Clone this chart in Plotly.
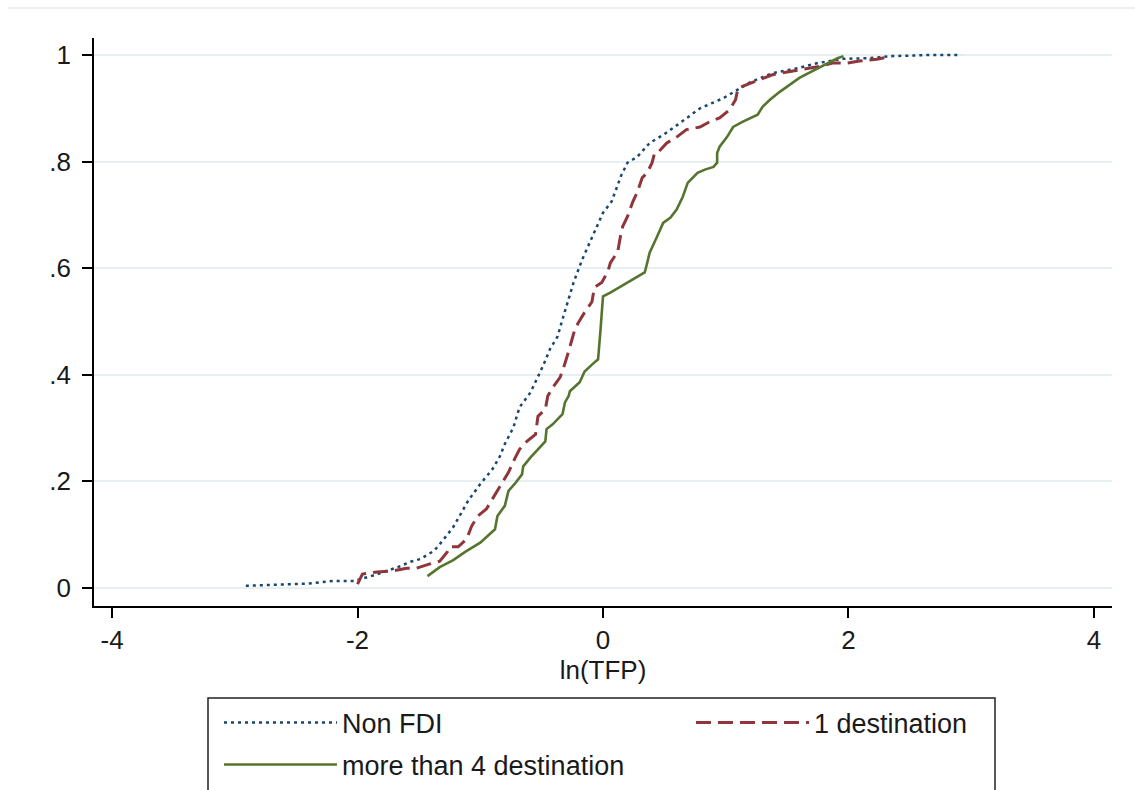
import plotly.graph_objects as go

# ---------------- data ----------------
nonfdi_x = [-2.91, -2.40, -2.20, -2.03, -1.89, -1.67, -1.57, -1.49, -1.38, -1.34, -1.22, -1.10,
            -1.00, -0.90, -0.84, -0.80, -0.73, -0.68, -0.59, -0.49, -0.43, -0.37, -0.33, -0.29,
            -0.24, -0.17, -0.09, 0.00, 0.07, 0.15, 0.20, 0.28, 0.38, 0.49, 0.63, 0.79, 0.98,
            1.20, 1.38, 1.60, 1.75, 1.96, 2.15, 2.36, 2.64, 2.92]
nonfdi_y = [0.004, 0.008, 0.013, 0.013, 0.022, 0.039, 0.049, 0.054, 0.069, 0.079, 0.114, 0.163,
            0.195, 0.223, 0.247, 0.270, 0.301, 0.339, 0.367, 0.416, 0.449, 0.472, 0.504, 0.536,
            0.573, 0.616, 0.659, 0.704, 0.725, 0.775, 0.798, 0.809, 0.835, 0.850, 0.873, 0.900,
            0.919, 0.949, 0.966, 0.976, 0.985, 0.993, 0.994, 0.998, 1.000, 1.000]

dest1_x = [-2.00, -1.96, -1.84, -1.71, -1.60, -1.52, -1.41, -1.33, -1.27, -1.25, -1.18, -1.11,
           -1.07, -1.02, -0.95, -0.86, -0.81, -0.77, -0.72, -0.68, -0.62, -0.55, -0.53, -0.47,
           -0.45, -0.41, -0.35, -0.32, -0.28, -0.25, -0.23, -0.20, -0.15, -0.09, -0.07, -0.01,
           0.04, 0.06, 0.12, 0.14, 0.16, 0.20, 0.24, 0.28, 0.32, 0.36, 0.40, 0.42, 0.45, 0.52,
           0.60, 0.68, 0.79, 0.87, 0.95, 1.03, 1.08, 1.10, 1.17, 1.28, 1.38, 1.50, 1.60, 1.69,
           1.77, 1.87, 1.99, 2.09, 2.23, 2.31, 2.35]
dest1_y = [0.007, 0.026, 0.030, 0.032, 0.037, 0.037, 0.045, 0.050, 0.067, 0.077, 0.077, 0.092,
           0.116, 0.135, 0.148, 0.182, 0.200, 0.217, 0.242, 0.260, 0.275, 0.288, 0.322, 0.335,
           0.360, 0.376, 0.395, 0.414, 0.444, 0.466, 0.485, 0.498, 0.517, 0.537, 0.564, 0.573,
           0.594, 0.610, 0.631, 0.657, 0.678, 0.697, 0.723, 0.743, 0.770, 0.779, 0.798, 0.816,
           0.818, 0.835, 0.846, 0.860, 0.865, 0.875, 0.882, 0.897, 0.916, 0.938, 0.944, 0.953,
           0.963, 0.968, 0.972, 0.976, 0.979, 0.985, 0.985, 0.989, 0.992, 0.996, 0.998]

dest4_x = [-1.43, -1.33, -1.22, -1.12, -1.00, -0.88, -0.86, -0.80, -0.77, -0.72, -0.66, -0.65,
           -0.59, -0.54, -0.47, -0.46, -0.41, -0.33, -0.31, -0.28, -0.27, -0.19, -0.15, -0.09,
           -0.04, -0.02, -0.01, 0.00, 0.06, 0.15, 0.24, 0.34, 0.36, 0.38, 0.44, 0.49, 0.55,
           0.60, 0.65, 0.69, 0.77, 0.83, 0.90, 0.93, 0.93, 0.95, 1.01, 1.06, 1.14, 1.26, 1.30,
           1.36, 1.44, 1.52, 1.60, 1.69, 1.77, 1.85, 1.91, 1.96]
dest4_y = [0.022, 0.039, 0.052, 0.068, 0.085, 0.110, 0.135, 0.154, 0.182, 0.195, 0.213, 0.228,
           0.245, 0.257, 0.275, 0.298, 0.307, 0.326, 0.348, 0.360, 0.369, 0.386, 0.406, 0.419,
           0.429, 0.485, 0.517, 0.547, 0.554, 0.566, 0.579, 0.592, 0.610, 0.629, 0.659, 0.685,
           0.695, 0.710, 0.734, 0.760, 0.779, 0.785, 0.790, 0.798, 0.816, 0.828, 0.846, 0.865,
           0.875, 0.888, 0.903, 0.916, 0.931, 0.944, 0.957, 0.968, 0.978, 0.987, 0.994, 0.998]

series_names = ["Non FDI", "1 destination", "more than 4 destination"]
x_ticks = [-4, -2, 0, 2, 4]
y_ticks = [0, 0.2, 0.4, 0.6, 0.8, 1]
y_tick_labels = ["0", ".2", ".4", ".6", ".8", "1"]
x_title = "ln(TFP)"

# ---------------- styling / layout ----------------
W, H = 1135, 790
PL, PR, PT, PB = 94, 1112, 38, 606   # plot area in pixels
FONT = "Liberation Sans, Arial, sans-serif"
TXT = "#1a1a1a"

def px_to_paper_x(px):
    return (px - PL) / (PR - PL)

def px_to_paper_y(py):
    return (PB - py) / (PB - PT)

fig = go.Figure()
fig.add_trace(go.Scatter(x=nonfdi_x, y=nonfdi_y, mode="lines", name=series_names[0],
                         line=dict(color="#1a476f", width=2.5, dash="3px,4px"), legend="legend"))
fig.add_trace(go.Scatter(x=dest1_x, y=dest1_y, mode="lines", name=series_names[1],
                         line=dict(color="#90353b", width=3, dash="15px,7px"), legend="legend2"))
fig.add_trace(go.Scatter(x=dest4_x, y=dest4_y, mode="lines", name=series_names[2],
                         line=dict(color="#55752f", width=2.6), legend="legend3"))

leg_common = dict(xref="container", yref="container", xanchor="left", yanchor="middle",
                  bgcolor="rgba(0,0,0,0)", borderwidth=0, itemwidth=113,
                  font=dict(family=FONT, size=27, color=TXT))
row1, row2 = 723, 765
fig.update_layout(
    width=W, height=H,
    margin=dict(l=PL, r=W - PR, t=PT, b=H - PB, autoexpand=False),
    paper_bgcolor="white", plot_bgcolor="white",
    font=dict(family=FONT, size=26, color=TXT),
    showlegend=True,
    legend=dict(x=219 / W, y=1 - row1 / H, **leg_common),
    legend2=dict(x=691 / W, y=1 - row1 / H, **leg_common),
    legend3=dict(x=219 / W, y=1 - row2 / H, **leg_common),
    xaxis=dict(range=[-4.147, 4.147], tickvals=x_ticks, ticktext=[str(v) for v in x_ticks],
               showgrid=False, zeroline=False, showline=True, linecolor="black", linewidth=1.6,
               ticks="outside", ticklen=10, tickwidth=1.6, tickcolor="black",
               tickfont=dict(size=26, family=FONT, color=TXT),
               title=dict(text=x_title, font=dict(size=26, family=FONT, color=TXT), standoff=0)),
    yaxis=dict(range=[-0.034, 1.032], tickvals=y_ticks, ticktext=y_tick_labels,
               showgrid=True, gridcolor="#e6eff1", gridwidth=1.5, zeroline=False,
               showline=True, linecolor="black", linewidth=1.6,
               ticks="outside", ticklen=10, tickwidth=1.6, tickcolor="black",
               ticklabelstandoff=6,
               tickfont=dict(size=26, family=FONT, color=TXT)),
    shapes=[
        dict(type="rect", xref="paper", yref="paper",
             x0=px_to_paper_x(208), x1=px_to_paper_x(995),
             y0=px_to_paper_y(698), y1=px_to_paper_y(805),
             line=dict(color="#222222", width=1.5), fillcolor="rgba(0,0,0,0)", layer="above"),
        dict(type="line", xref="paper", yref="paper",
             x0=px_to_paper_x(8), x1=px_to_paper_x(1135),
             y0=px_to_paper_y(8), y1=px_to_paper_y(8),
             line=dict(color="#e3e9ec", width=1.5)),
    ],
)

fig.write_html("out.html", config={"displayModeBar": False},
               post_script="document.body.style.margin='0';")
